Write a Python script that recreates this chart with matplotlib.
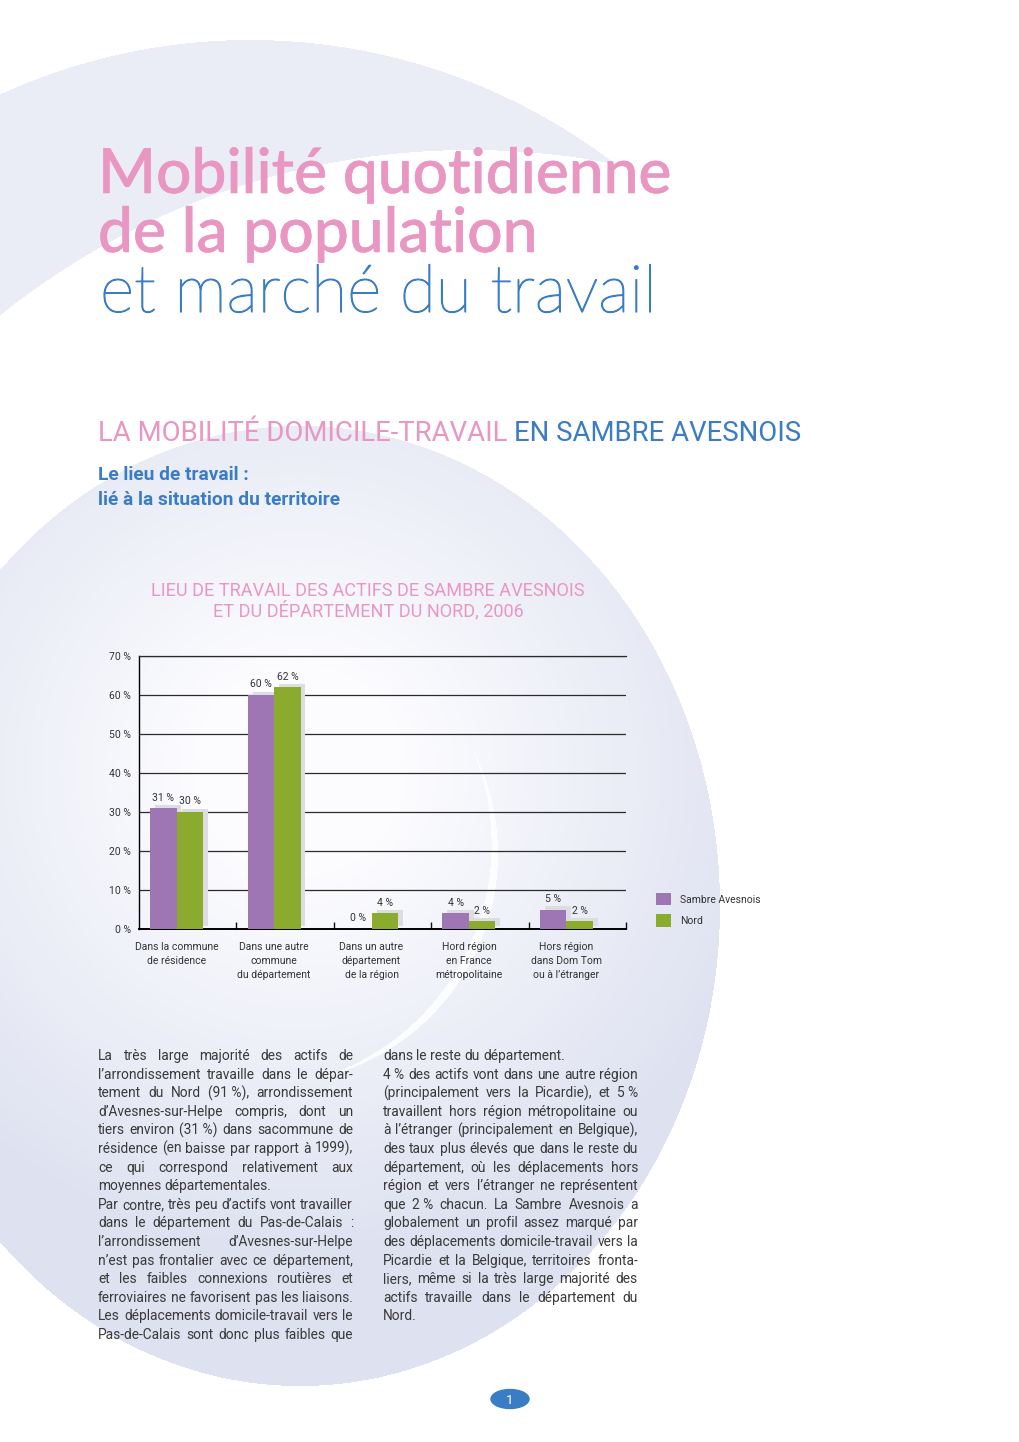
import matplotlib
import numpy as np
from matplotlib import font_manager
from matplotlib import patheffects
from matplotlib.font_manager import FontProperties
from matplotlib.patches import Ellipse

matplotlib.use("Agg")
import matplotlib.pyplot as plt

W, H, DPI = 1020, 1442, 100

# Chart data
categories = [
    "Dans la commune\nde résidence",
    "Dans une autre\ncommune\ndu département",
    "Dans un autre\ndépartement\nde la région",
    "Hord région\nen France\nmétropolitaine",
    "Hors région\ndans Dom Tom\nou à l’étranger",
]
sambre_avesnois = [31, 60, 0, 4, 5]
nord = [30, 62, 4, 2, 2]
series_names = ["Sambre Avesnois", "Nord"]
y_ticks = [0, 10, 20, 30, 40, 50, 60, 70]

title_lines = ["Mobilité quotidienne", "de la population", "et marché du travail"]
heading_pink = "LA MOBILITÉ DOMICILE-TRAVAIL"
heading_blue = "EN SAMBRE AVESNOIS"
subheading = ["Le lieu de travail :", "lié à la situation du territoire"]
chart_title = ["LIEU DE TRAVAIL DES ACTIFS DE SAMBRE AVESNOIS", "ET DU DÉPARTEMENT DU NORD, 2006"]

left_column = [
    "La très large majorité des actifs de",
    "l’arrondissement travaille dans le dépar-",
    "tement du Nord (91\u00a0%), arrondissement",
    "d’Avesnes-sur-Helpe compris, dont un",
    "tiers environ (31\u00a0%) dans sacommune de",
    "résidence (en baisse par rapport à 1999),",
    "ce qui correspond relativement aux",
    "moyennes départementales.",
    "Par contre, très peu d’actifs vont travailler",
    "dans le département du Pas-de-Calais :",
    "l’arrondissement d’Avesnes-sur-Helpe",
    "n’est pas frontalier avec ce département,",
    "et les faibles connexions routières et",
    "ferroviaires ne favorisent pas les liaisons.",
    "Les déplacements domicile-travail vers le",
    "Pas-de-Calais sont donc plus faibles que",
]
left_last = {7}
right_column = [
    "dans le reste du département.",
    "4\u00a0% des actifs vont dans une autre région",
    "(principalement vers la Picardie), et 5\u00a0%",
    "travaillent hors région métropolitaine ou",
    "à l’étranger (principalement en Belgique),",
    "des taux plus élevés que dans le reste du",
    "département, où les déplacements hors",
    "région et vers l’étranger ne représentent",
    "que 2\u00a0% chacun. La Sambre Avesnois a",
    "globalement un profil assez marqué par",
    "des déplacements domicile-travail vers la",
    "Picardie et la Belgique, territoires fronta-",
    "liers, même si la très large majorité des",
    "actifs travaille dans le département du",
    "Nord.",
]
right_last = {0, 14}

PINK = "#e996c3"
BLUE = "#3a7dc5"
PURPLE = "#9e76b4"
GREEN = "#8aab2e"
SHADOW = "#dcdde3"
TEXT = "#3a3a3a"

names = {f.name for f in font_manager.fontManager.ttflist}
NARROW = "Liberation Sans Narrow" if "Liberation Sans Narrow" in names else "Roboto"
ROUND = "Lato" if "Lato" in names else "DejaVu Sans"
CHART_FONT = "Roboto" if "Roboto" in names else "DejaVu Sans"


def background() -> np.ndarray:
    """Pale swirl decoration of the page, in page pixel coordinates."""
    yy, xx = np.mgrid[0:H, 0:W] + 0.5
    bg = np.ones((H, W, 3))
    outer = (xx - 250) ** 2 + (yy - 640) ** 2 < 600 ** 2
    inner = (xx - 470) ** 2 + (yy - 900) ** 2 < 750 ** 2
    bg[outer & ~inner] = np.array([234, 236, 246]) / 255

    ellipse = ((xx - 300) / 420) ** 2 + ((yy - 906) / 480) ** 2 < 1
    t = np.clip((np.hypot(xx - 300, yy - 770) - 100) / 400, 0, 1)[..., None]
    shade = (1 - t) * np.array([0.99, 0.99, 1.0]) + t * np.array([221, 225, 240]) / 255
    bg[ellipse] = shade[ellipse]

    # thin white swoosh curving round the right of the chart
    swoosh = (
        ((xx - 268) ** 2 + (yy - 854) ** 2 < 230 ** 2)
        & ((xx - 246.2) ** 2 + (yy - 843.9) ** 2 > 245.4 ** 2)
        & ellipse
    )
    bg[swoosh] = np.array([0.992, 0.994, 1.0])
    return bg


fig = plt.figure(figsize=(W / DPI, H / DPI), dpi=DPI)
renderer = fig.canvas.get_renderer()

page = fig.add_axes([0, 0, 1, 1])
page.imshow(background(), extent=(0, W, H, 0), aspect="auto", zorder=0)
page.set_xlim(0, W)
page.set_ylim(H, 0)
page.axis("off")


def width_of(text, prop):
    w, _, _ = renderer.get_text_width_height_descent(text, prop, ismath=False)
    return w


def fitted(text, family, width_px, weight="normal"):
    probe = FontProperties(family=family, weight=weight, size=10)
    return FontProperties(family=family, weight=weight, size=10 * width_px / width_of(text, probe))


# Page title
fp_title = fitted(title_lines[0], ROUND, 577, weight="medium")
pink_stroke = [patheffects.withStroke(linewidth=0.4, foreground=PINK)]
page.text(98, 193, title_lines[0], fontproperties=fp_title, color=PINK, va="baseline",
          path_effects=pink_stroke)
page.text(98, 252, title_lines[1], fontproperties=fp_title, color=PINK, va="baseline",
          path_effects=pink_stroke)
fp_light = fitted(title_lines[2], [ROUND + " Light", ROUND], 557, weight="light")
page.text(100, 312, title_lines[2], fontproperties=fp_light, color=BLUE, va="baseline",
          path_effects=[patheffects.withStroke(linewidth=0.9, foreground=BLUE)])

# Section heading, pink part then blue part
fp_head = fitted(heading_pink + " " + heading_blue, NARROW, 698)
page.text(98, 441, heading_pink, fontproperties=fp_head, color=PINK, va="baseline")
page.text(98 + width_of(heading_pink + " ", fp_head), 441, heading_blue,
          fontproperties=fp_head, color=BLUE, va="baseline")

fp_sub = fitted(subheading[1], NARROW, 244, weight="bold")
page.text(98, 480, subheading[0], fontproperties=fp_sub, color=BLUE, va="baseline")
page.text(98, 505, subheading[1], fontproperties=fp_sub, color=BLUE, va="baseline")

# Chart title
fp_ct = fitted(chart_title[0], NARROW, 433)
page.text(368, 595.5, chart_title[0], fontproperties=fp_ct, color=PINK, va="baseline", ha="center")
page.text(368, 616.5, chart_title[1], fontproperties=fp_ct, color=PINK, va="baseline", ha="center")


# Body text, justified in two columns
def justified(lines, last, x0, y0, width, leading, prop):
    space = width_of("a a", prop) - width_of("aa", prop)
    for k, line in enumerate(lines):
        words = line.split(" ")
        widths = [width_of(w, prop) for w in words]
        gap = space if (k in last or len(words) == 1) else (width - sum(widths)) / (len(words) - 1)
        x = x0
        for word, ww in zip(words, widths):
            page.text(x, y0 + k * leading, word, fontproperties=prop, color=TEXT, va="baseline")
            x += ww + gap


probe = FontProperties(family=NARROW, size=10)
widest = max(
    width_of(line, probe)
    for col, last in ((left_column, left_last), (right_column, right_last))
    for k, line in enumerate(col)
    if k not in last
)
fp_body = FontProperties(family=NARROW, size=min(10.2, 10 * 254 / widest))
justified(left_column, left_last, 98, 1060, 255, 18.6, fp_body)
justified(right_column, right_last, 383, 1060, 255, 18.6, fp_body)

# Page number
page.add_patch(Ellipse((510, 1399), 38, 19, color=BLUE, zorder=3))
page.text(510, 1400, "1", color="white", fontsize=9.5, ha="center", va="center",
          family=CHART_FONT, zorder=4)

# Bar chart
ax = fig.add_axes([139 / W, 1 - 929 / H, (626 - 139) / W, (929 - 656) / H])
ax.set_facecolor("none")
x = np.arange(len(categories))
bar_w = 0.27
offsets = [-0.249, 0.024]
series = [sambre_avesnois, nord]
colors = [PURPLE, GREEN]
handles = []
for values, off, color, name in zip(series, offsets, colors, series_names):
    ax.bar(x + off + 0.05, values, bar_w, bottom=0.77, color=SHADOW, linewidth=0, zorder=2)
    bars = ax.bar(x + off, values, bar_w, color=color, linewidth=0, zorder=3, label=name)
    handles.append(bars)
    for xi, v in zip(x + off, values):
        ax.annotate(f"{v} %", xy=(xi, v), xytext=(0, 7.6), textcoords="offset points",
                    ha="center", va="center", fontsize=7.5, family=CHART_FONT, color="#333333")

ax.set_xlim(-0.5, len(categories) - 0.5)
ax.set_ylim(0, 70)
ax.set_yticks(y_ticks)
ax.set_yticklabels([f"{v} %" for v in y_ticks], fontsize=7.5, family=CHART_FONT, color="#333333")
ax.tick_params(axis="y", length=0, pad=5.8)
ax.set_xticks(x + 0.5)
ax.set_xticklabels([])
ax.tick_params(axis="x", direction="in", length=5, width=1, color="#111111")
ax.yaxis.grid(True, color="#2a2a2a", linewidth=0.9)
ax.set_axisbelow(True)
ax.spines["right"].set_visible(False)
ax.spines["top"].set_color("#2a2a2a")
ax.spines["top"].set_linewidth(0.9)
ax.spines["left"].set_linewidth(1.0)
ax.spines["bottom"].set_linewidth(1.4)

for xi, label in zip(x + (offsets[0] + offsets[1]) / 2, categories):
    for j, line in enumerate(label.split("\n")):
        ax.annotate(line, xy=(xi, 0), xycoords=("data", "axes fraction"),
                    xytext=(0, -(20.5 + 14.2 * j) * 72 / DPI), textcoords="offset points",
                    ha="center", va="baseline", fontsize=7.5, family=CHART_FONT, color="#333333")

ax.legend(handles, series_names, loc="upper left", bbox_to_anchor=(656 / W, 1 - 893 / H),
          bbox_transform=fig.transFigure, frameon=False, borderpad=0, borderaxespad=0,
          prop=FontProperties(family=CHART_FONT, size=7.5), labelcolor="#333333",
          handlelength=1.4, handleheight=1.45, handletextpad=0.9, labelspacing=0.85)

fig.savefig("out.png", dpi=DPI)
plt.close(fig)
